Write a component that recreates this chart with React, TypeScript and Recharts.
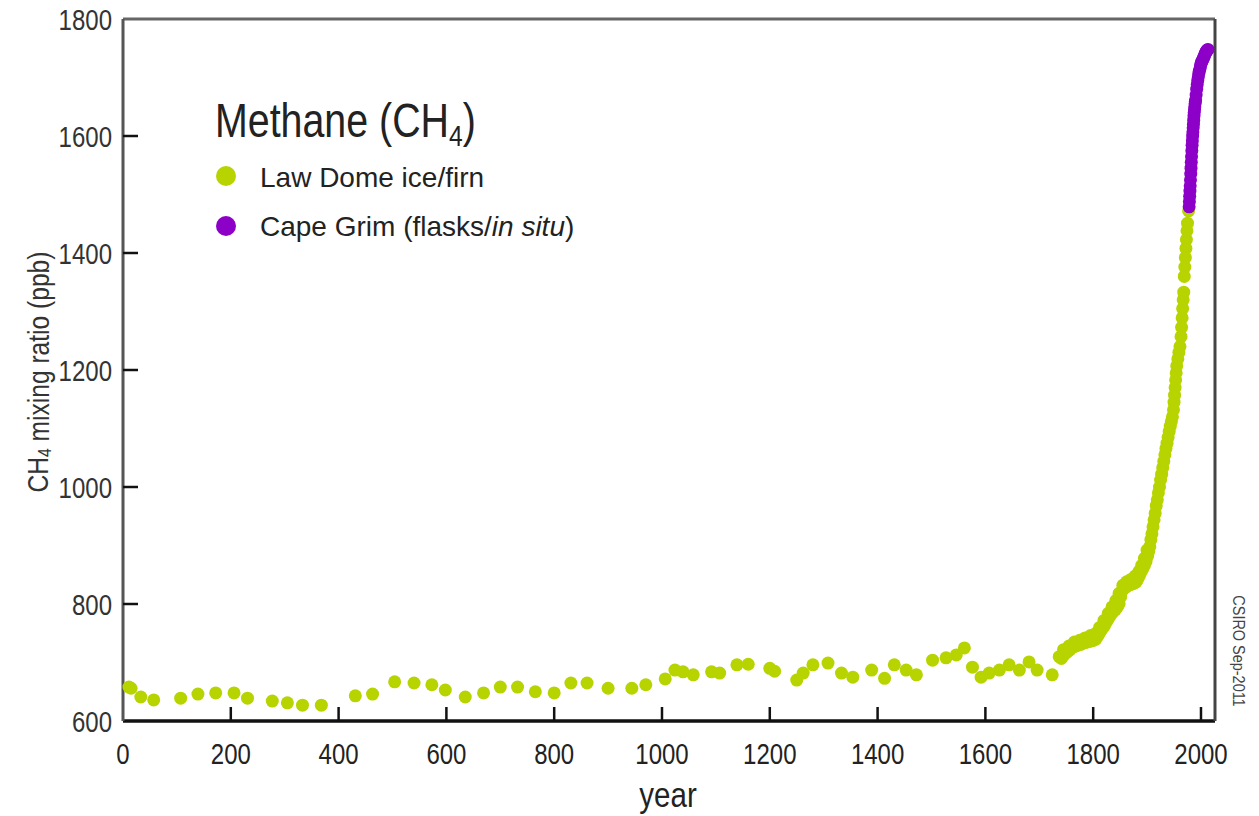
import { ScatterChart, Scatter, XAxis, YAxis } from 'recharts';

// Law Dome ice core / firn
const lawDomeYear = [
  11, 15, 33, 57, 107, 139, 172, 206, 231, 277, 305, 333, 368, 431, 463, 504, 540, 573, 598, 635,
  669, 700, 732, 765, 800, 831, 861, 900, 944, 970, 1006, 1024, 1039, 1058, 1092, 1107, 1139, 1160,
  1200, 1209, 1250, 1262, 1280, 1308, 1333, 1354, 1389, 1413, 1431, 1453, 1472, 1502, 1527, 1546,
  1561, 1576, 1592, 1607, 1626, 1644, 1663, 1681, 1696, 1724,
  1737, 1741, 1745, 1749, 1753, 1757, 1761, 1765, 1769, 1773, 1777, 1781, 1785, 1789, 1793, 1797,
  1801, 1805, 1809, 1813, 1817, 1821, 1825, 1829, 1833, 1837, 1841, 1845, 1848, 1851, 1853, 1856,
  1859, 1862, 1865, 1868, 1871, 1874, 1877, 1880, 1883, 1886, 1889, 1892, 1895, 1898, 1901, 1903,
  1905, 1907, 1909, 1911, 1913, 1915, 1917, 1919, 1921, 1923, 1925, 1927, 1929, 1931, 1933, 1935,
  1937, 1939, 1941, 1943, 1945, 1947, 1949, 1950, 1951, 1952, 1953, 1954, 1955, 1957, 1959, 1961,
  1963, 1964, 1965, 1966, 1967, 1968, 1969, 1970, 1971, 1972, 1973, 1974, 1975, 1977,
  // second row of samples that widens the band
  1745, 1755, 1765, 1775, 1785, 1795, 1805, 1812, 1820, 1828, 1835, 1842, 1848, 1855, 1862, 1870,
  1878, 1885, 1890, 1895, 1900,
];
const lawDomeCH4 = [
  658, 656, 641, 636, 639, 646, 648, 648, 639, 634, 631, 627, 627, 643, 646, 667, 665, 662, 653, 641,
  648, 658, 658, 650, 648, 665, 665, 656, 656, 662, 672, 687, 684, 679, 684, 682, 696, 697,
  690, 685, 670, 682, 696, 699, 682, 675, 687, 673, 696, 687, 679, 704, 708, 713,
  725, 692, 675, 682, 687, 696, 687, 701, 687, 679,
  710, 707, 712, 716, 719, 722, 726, 727, 729, 730, 731, 733, 734, 735, 736, 737,
  738, 740, 746, 752, 758, 763, 770, 776, 782, 787, 790, 795, 800, 812, 822, 826,
  828, 830, 832, 833, 834, 835, 836, 838, 843, 849, 855, 860, 866, 873, 882, 890,
  898, 910, 920, 932, 944, 955, 968, 978, 990, 1000, 1012, 1022, 1033, 1044, 1055, 1066,
  1075, 1085, 1095, 1104, 1112, 1120, 1132, 1145, 1157, 1170, 1183, 1195, 1207, 1219, 1230, 1240,
  1257, 1273, 1289, 1305, 1320, 1333, 1360, 1376, 1392, 1408, 1423, 1438, 1451, 1472,
  722, 728, 735, 738, 742, 746, 750, 760, 772, 784, 795, 806, 818, 832, 838, 842,
  848, 856, 866, 878, 892,
];

// Cape Grim flasks / in situ
const capeGrimYear = [
  1978, 1978.5, 1979, 1979.5, 1980, 1980.5, 1981, 1981.5, 1982, 1982.5, 1983, 1983.5, 1984, 1984.5,
  1985, 1985.5, 1986, 1986.5, 1987, 1987.5, 1988, 1988.5, 1989, 1989.5, 1990, 1991, 1992, 1993,
  1994, 1995, 1996, 1997, 1998, 1999, 2000, 2001, 2002, 2003, 2004, 2005, 2006, 2007, 2008, 2009,
  2010, 2011, 2012, 2013,
];
const capeGrimCH4 = [
  1479, 1488, 1497, 1506, 1515, 1525, 1535, 1545, 1555, 1565, 1575, 1584, 1592, 1600,
  1607, 1614, 1620, 1627, 1634, 1640, 1645, 1650, 1655, 1659, 1662, 1670, 1680, 1688,
  1695, 1701, 1707, 1711, 1715, 1719, 1723, 1726, 1728, 1730, 1732, 1734, 1736, 1739, 1741, 1743,
  1745, 1746, 1747, 1748,
];

const yearTicks = [0, 200, 400, 600, 800, 1000, 1200, 1400, 1600, 1800, 2000];
const ch4Ticks = [600, 800, 1000, 1200, 1400, 1600, 1800];

const GREEN = '#b7d400';
const PURPLE = '#8c00c8';
const FONT = 'Liberation Sans, Arial, sans-serif';

const lawDome = lawDomeYear.map((y, i) => ({ year: y, ch4: lawDomeCH4[i] }));
const capeGrim = capeGrimYear.map((y, i) => ({ year: y, ch4: capeGrimCH4[i] }));

const dot = (color: string) => (p: any) => <circle cx={p.cx} cy={p.cy} r={6.5} fill={color} />;

function BottomTick({ x, y, payload }: any) {
  return (
    <g>
      {payload.value !== 0 && <line x1={x} x2={x} y1={y} y2={y - 14} stroke="#111" strokeWidth={2.5} />}
      <text
        transform={`translate(${x},${y + 43}) scale(0.8,1)`}
        textAnchor="middle"
        fontSize={30}
        fontFamily={FONT}
        fill="#222"
      >
        {payload.value}
      </text>
    </g>
  );
}

function LeftTick({ x, y, payload }: any) {
  const inner = payload.value !== 600 && payload.value !== 1800;
  return (
    <g>
      {inner && <line x1={x} x2={x + 15} y1={y} y2={y} stroke="#111" strokeWidth={2.5} />}
      <text
        transform={`translate(${x - 11},${y + 11}) scale(0.8,1)`}
        textAnchor="end"
        fontSize={30}
        fontFamily={FONT}
        fill="#333"
      >
        {payload.value}
      </text>
    </g>
  );
}

function TopTick({ x, y, payload }: any) {
  if (payload.value === 0) return <g />;
  return <line x1={x} x2={x} y1={y} y2={y + 14} stroke="#333" strokeWidth={2.5} />;
}

function RightTick({ x, y, payload }: any) {
  if (payload.value === 600 || payload.value === 1800) return <g />;
  return <line x1={x} x2={x - 13} y1={y} y2={y} stroke="#111" strokeWidth={2.5} />;
}

export default function App() {
  return (
    <div style={{ position: 'relative', width: 1259, height: 816, background: '#fff' }}>
      <style>{'body{margin:0;background:#fff}'}</style>
      <ScatterChart width={1259} height={816} margin={{ top: 17, right: 40, bottom: 55, left: 63 }}>
        <XAxis
          xAxisId="b"
          dataKey="year"
          type="number"
          domain={[0, 2026]}
          ticks={yearTicks}
          height={40}
          tickSize={0}
          tickMargin={0}
          axisLine={{ stroke: '#111', strokeWidth: 3.5 }}
          tick={<BottomTick />}
          interval={0}
        />
        <XAxis
          xAxisId="t"
          orientation="top"
          dataKey="year"
          type="number"
          domain={[0, 2026]}
          ticks={yearTicks}
          height={2}
          tickSize={0}
          tickMargin={0}
          axisLine={{ stroke: '#666', strokeWidth: 3 }}
          tick={<TopTick />}
          interval={0}
        />
        <YAxis
          yAxisId="l"
          dataKey="ch4"
          type="number"
          domain={[600, 1800]}
          ticks={ch4Ticks}
          width={60}
          tickSize={0}
          tickMargin={0}
          axisLine={{ stroke: '#555', strokeWidth: 3 }}
          tick={<LeftTick />}
          interval={0}
        />
        <YAxis
          yAxisId="r"
          orientation="right"
          dataKey="ch4"
          type="number"
          domain={[600, 1800]}
          ticks={ch4Ticks}
          width={4}
          tickSize={0}
          tickMargin={0}
          axisLine={{ stroke: '#444', strokeWidth: 3 }}
          tick={<RightTick />}
          interval={0}
        />
        <Scatter
          name="Law Dome ice/firn"
          data={lawDome}
          xAxisId="b"
          yAxisId="l"
          shape={dot(GREEN)}
          isAnimationActive={false}
        />
        <Scatter
          name="Cape Grim (flasks/in situ)"
          data={capeGrim}
          xAxisId="b"
          yAxisId="l"
          shape={dot(PURPLE)}
          isAnimationActive={false}
        />
      </ScatterChart>

      <svg
        width={1259}
        height={816}
        style={{ position: 'absolute', left: 0, top: 0, pointerEvents: 'none' }}
        fontFamily={FONT}
      >
        <text transform="translate(215,137) scale(0.82,1)" fontSize={48} fill="#222">
          Methane (CH<tspan fontSize={30} dy={9}>4</tspan>
          <tspan dy={-9}>)</tspan>
        </text>
        <circle cx={226} cy={176} r={10} fill={GREEN} />
        <text x={260} y={187} fontSize={28} fill="#222">Law Dome ice/firn</text>
        <circle cx={226} cy={226} r={10} fill={PURPLE} />
        <text x={260} y={236} fontSize={28} fill="#222">
          Cape Grim (flasks/<tspan fontStyle="italic">in situ</tspan>)
        </text>

        <text
          transform="translate(38,372) rotate(-90) scale(0.82,1)"
          textAnchor="middle"
          dominantBaseline="central"
          fontSize={30}
          fill="#333"
        >
          CH<tspan fontSize={19} dy={6}>4</tspan>
          <tspan dy={-6}> mixing ratio (ppb)</tspan>
        </text>

        <text transform="translate(668,807) scale(0.82,1)" textAnchor="middle" fontSize={36} fill="#222">
          year
        </text>

        <text
          transform="translate(1239,651) rotate(90) scale(0.85,1)"
          textAnchor="middle"
          dominantBaseline="central"
          fontSize={17}
          fill="#444"
        >
          CSIRO Sep-2011
        </text>
      </svg>
    </div>
  );
}
